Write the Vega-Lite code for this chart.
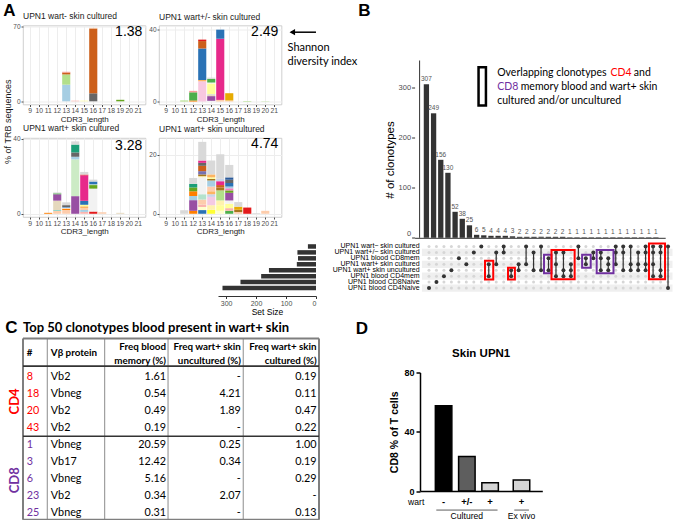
{
"$schema": "https://vega.github.io/schema/vega-lite/v6.json",
"padding": {"left": 3, "top": 1.5, "right": 2, "bottom": 0},
"background": "white",
"config": {"view": {"stroke": null}, "font": "Liberation Sans", "title": {"font": "Liberation Sans"}, "axis": {"labelFont": "Liberation Sans", "titleFont": "Liberation Sans"}, "text": {"font": "Liberation Sans"}},
"datasets": {
"cdr3": [
{"p":"p1","L":13,"c":"K01","v":15.6},{"p":"p1","L":13,"c":"K02","v":9.6},{"p":"p1","L":13,"c":"K03","v":1.8},{"p":"p1","L":13,"c":"K04","v":0.7},
{"p":"p1","L":14,"c":"K30","v":0.6},{"p":"p1","L":15,"c":"K13","v":0.6},
{"p":"p1","L":16,"c":"K05","v":7.5},{"p":"p1","L":16,"c":"K03","v":60.8},{"p":"p1","L":16,"c":"K21","v":0.6},
{"p":"p1","L":19,"c":"K06","v":1.4},
{"p":"p2","L":11,"c":"K02","v":0.6},
{"p":"p2","L":12,"c":"K17","v":0.6},{"p":"p2","L":12,"c":"K18","v":4.5},{"p":"p2","L":12,"c":"K04","v":0.8},
{"p":"p2","L":13,"c":"K07","v":11.2},{"p":"p2","L":13,"c":"K08","v":0.7},{"p":"p2","L":13,"c":"K09","v":17.4},{"p":"p2","L":13,"c":"K03","v":4.1},{"p":"p2","L":13,"c":"K10","v":0.8},
{"p":"p2","L":14,"c":"K20","v":0.4},{"p":"p2","L":14,"c":"K11","v":2.6},{"p":"p2","L":14,"c":"K12","v":0.6},{"p":"p2","L":14,"c":"K19","v":0.5},{"p":"p2","L":14,"c":"K13","v":5.9},{"p":"p2","L":14,"c":"K20","v":0.5},{"p":"p2","L":14,"c":"K18","v":2.0},{"p":"p2","L":14,"c":"K19","v":0.7},
{"p":"p2","L":15,"c":"K21","v":0.9},{"p":"p2","L":15,"c":"K15","v":33.8},{"p":"p2","L":15,"c":"K09","v":5.0},
{"p":"p2","L":16,"c":"K21","v":0.6},{"p":"p2","L":16,"c":"K16","v":4.0},
{"p":"p2","L":18,"c":"K02","v":0.3},{"p":"p2","L":20,"c":"K02","v":0.15},
{"p":"p3","L":11,"c":"K17","v":0.5},
{"p":"p3","L":12,"c":"K21","v":1.5},{"p":"p3","L":12,"c":"K29","v":0.5},{"p":"p3","L":12,"c":"K12","v":5.0},{"p":"p3","L":12,"c":"K11","v":3.4},{"p":"p3","L":12,"c":"K18","v":0.5},{"p":"p3","L":12,"c":"K19","v":0.5},
{"p":"p3","L":13,"c":"K21","v":2.0},{"p":"p3","L":13,"c":"K17","v":0.8},{"p":"p3","L":13,"c":"K20","v":0.5},{"p":"p3","L":13,"c":"K09","v":0.3},{"p":"p3","L":13,"c":"K05","v":1.0},{"p":"p3","L":13,"c":"K19","v":1.5},
{"p":"p3","L":14,"c":"K11","v":9.4},{"p":"p3","L":14,"c":"K32","v":19.6},{"p":"p3","L":14,"c":"K01","v":1.4},{"p":"p3","L":14,"c":"K05","v":2.3},{"p":"p3","L":14,"c":"K14","v":4.2},{"p":"p3","L":14,"c":"K19","v":1.7},
{"p":"p3","L":15,"c":"K30","v":1.0},{"p":"p3","L":15,"c":"K01","v":1.0},{"p":"p3","L":15,"c":"K21","v":1.0},{"p":"p3","L":15,"c":"K08","v":1.0},{"p":"p3","L":15,"c":"K13","v":0.8},{"p":"p3","L":15,"c":"K09","v":2.1},{"p":"p3","L":15,"c":"K15","v":13.6},{"p":"p3","L":15,"c":"K10","v":0.4},{"p":"p3","L":15,"c":"K19","v":1.4},
{"p":"p3","L":16,"c":"K10","v":1.2},{"p":"p3","L":16,"c":"K20","v":12.2},{"p":"p3","L":16,"c":"K06","v":1.9},{"p":"p3","L":16,"c":"K32","v":0.4},{"p":"p3","L":16,"c":"K09","v":1.5},{"p":"p3","L":16,"c":"K19","v":1.0},
{"p":"p3","L":17,"c":"K21","v":0.8},{"p":"p3","L":19,"c":"K12","v":0.5},
{"p":"p4","L":11,"c":"K19","v":1.2},
{"p":"p4","L":12,"c":"K17","v":1.0},{"p":"p4","L":12,"c":"K11","v":3.6},{"p":"p4","L":12,"c":"K01","v":1.4},{"p":"p4","L":12,"c":"K17","v":1.6},{"p":"p4","L":12,"c":"K06","v":1.3},{"p":"p4","L":12,"c":"K14","v":1.2},{"p":"p4","L":12,"c":"K19","v":2.0},
{"p":"p4","L":13,"c":"K09","v":1.25},{"p":"p4","L":13,"c":"K33","v":1.05},{"p":"p4","L":13,"c":"K30","v":0.8},{"p":"p4","L":13,"c":"K21","v":1.7},{"p":"p4","L":13,"c":"K22","v":1.8},{"p":"p4","L":13,"c":"K20","v":5.7},{"p":"p4","L":13,"c":"K25","v":0.4},{"p":"p4","L":13,"c":"K27","v":0.6},{"p":"p4","L":13,"c":"K24","v":1.1},{"p":"p4","L":13,"c":"K03","v":1.8},{"p":"p4","L":13,"c":"K05","v":1.0},{"p":"p4","L":13,"c":"K15","v":0.8},{"p":"p4","L":13,"c":"K19","v":6.3},
{"p":"p4","L":14,"c":"K26","v":1.35},{"p":"p4","L":14,"c":"K25","v":1.55},{"p":"p4","L":14,"c":"K34","v":2.8},{"p":"p4","L":14,"c":"K23","v":0.9},{"p":"p4","L":14,"c":"K08","v":1.0},{"p":"p4","L":14,"c":"K21","v":1.6},{"p":"p4","L":14,"c":"K01","v":2.05},{"p":"p4","L":14,"c":"K27","v":0.55},{"p":"p4","L":14,"c":"K13","v":0.5},{"p":"p4","L":14,"c":"K08","v":1.0},{"p":"p4","L":14,"c":"K19","v":4.7},
{"p":"p4","L":15,"c":"K33","v":1.0},{"p":"p4","L":15,"c":"K13","v":1.9},{"p":"p4","L":15,"c":"K25","v":1.6},{"p":"p4","L":15,"c":"K02","v":3.4},{"p":"p4","L":15,"c":"K27","v":0.95},{"p":"p4","L":15,"c":"K03","v":0.85},{"p":"p4","L":15,"c":"K15","v":1.3},{"p":"p4","L":15,"c":"K23","v":0.8},{"p":"p4","L":15,"c":"K19","v":8.3},
{"p":"p4","L":16,"c":"K18","v":1.0},{"p":"p4","L":16,"c":"K30","v":0.9},{"p":"p4","L":16,"c":"K13","v":1.5},{"p":"p4","L":16,"c":"K20","v":1.1},{"p":"p4","L":16,"c":"K11","v":2.6},{"p":"p4","L":16,"c":"K06","v":0.8},{"p":"p4","L":16,"c":"K28","v":0.7},{"p":"p4","L":16,"c":"K01","v":0.6},{"p":"p4","L":16,"c":"K09","v":1.2},{"p":"p4","L":16,"c":"K05","v":1.1},{"p":"p4","L":16,"c":"K36","v":0.8},{"p":"p4","L":16,"c":"K19","v":4.2},
{"p":"p4","L":17,"c":"K21","v":0.6},{"p":"p4","L":17,"c":"K27","v":0.75},{"p":"p4","L":17,"c":"K16","v":1.05},{"p":"p4","L":17,"c":"K19","v":1.55},
{"p":"p4","L":18,"c":"K10","v":2.1},{"p":"p4","L":19,"c":"K19","v":0.25},{"p":"p4","L":20,"c":"K21","v":1.0}
],
"shannon": [{"p":"p1","L":21,"y":65,"t":"1.38"},{"p":"p2","L":21,"y":38.5,"t":"2.49"},{"p":"p3","L":21,"y":36.4,"t":"3.28"},{"p":"p4","L":21,"y":23.6,"t":"4.74"}],
"inter": [
{"i":1,"n":307,"m":[8]},{"i":2,"n":249,"m":[7]},{"i":3,"n":156,"m":[6]},{"i":4,"n":130,"m":[5]},{"i":5,"n":52,"m":[3]},{"i":6,"n":38,"m":[4]},{"i":7,"n":25,"m":[2]},{"i":8,"n":6,"m":[1]},
{"i":9,"n":5,"m":[4,6]},{"i":10,"n":4,"m":[2,4]},{"i":11,"n":4,"m":[1,2]},{"i":12,"n":4,"m":[5,6]},{"i":13,"n":3,"m":[4,5]},
{"i":14,"n":2,"m":[1,4]},{"i":15,"n":2,"m":[2,5]},{"i":16,"n":2,"m":[1,5]},{"i":17,"n":2,"m":[3,5]},{"i":18,"n":2,"m":[2,4,6]},{"i":19,"n":2,"m":[2,5,6]},{"i":20,"n":2,"m":[4,5,6]},
{"i":21,"n":1,"m":[1,3]},{"i":22,"n":1,"m":[3,4]},{"i":23,"n":1,"m":[2,3]},{"i":24,"n":1,"m":[2,3,5]},{"i":25,"n":1,"m":[3,4,5]},{"i":26,"n":1,"m":[1,2,4]},{"i":27,"n":1,"m":[1,2,5]},{"i":28,"n":1,"m":[1,4,5]},{"i":29,"n":1,"m":[2,4,5]},{"i":30,"n":1,"m":[1,2,4,5]},{"i":31,"n":1,"m":[1,2,4,6]},{"i":32,"n":1,"m":[1,2,5,6]},{"i":33,"n":1,"m":[1,8]}
],
"sets": [
{"r":1,"name":"UPN1 wart− skin cultured","size":27},
{"r":2,"name":"UPN1 wart+/− skin cultured","size":62},
{"r":3,"name":"UPN1 blood CD8mem","size":60},
{"r":4,"name":"UPN1 wart+ skin cultured","size":64},
{"r":5,"name":"UPN1 wart+ skin uncultured","size":157},
{"r":6,"name":"UPN1 blood CD4mem","size":183},
{"r":7,"name":"UPN1 blood CD8Naive","size":252},
{"r":8,"name":"UPN1 blood CD4Naive","size":312}
],
"boxes": [
{"a":8.5,"b":9.6,"lo":3.4,"hi":6.55,"k":"CD4"},
{"a":11.58,"b":12.5,"lo":4.6,"hi":6.55,"k":"CD4"},
{"a":16.4,"b":17.4,"lo":2.4,"hi":5.5,"k":"CD8"},
{"a":17.4,"b":20.5,"lo":1.6,"hi":6.5,"k":"CD4"},
{"a":21.5,"b":22.65,"lo":2.4,"hi":4.6,"k":"CD8"},
{"a":23.45,"b":25.7,"lo":1.6,"hi":5.5,"k":"CD8"},
{"a":30.45,"b":32.6,"lo":0.5,"hi":6.5,"k":"CD4"}
],
"legtxt": [
{"x":10.87,"y":330.6,"t":"Overlapping clonotypes","g":"k"},
{"x":26.66,"y":330.6,"t":"CD4","g":"r"},
{"x":29.92,"y":330.6,"t":"and","g":"k"},
{"x":10.87,"y":302.6,"t":"CD8","g":"p"},
{"x":14.15,"y":302.6,"t":"memory blood and wart+ skin","g":"k"},
{"x":10.87,"y":274.6,"t":"cultured and/or uncultured","g":"k"}
],
"tbody": [
{"k":1,"g":"CD4","id":"8","vb":"Vb2","f1":"1.61","f2":"-","f3":"0.19"},
{"k":2,"g":"CD4","id":"18","vb":"Vbneg","f1":"0.54","f2":"4.21","f3":"0.11"},
{"k":3,"g":"CD4","id":"20","vb":"Vb2","f1":"0.49","f2":"1.89","f3":"0.47"},
{"k":4,"g":"CD4","id":"43","vb":"Vb2","f1":"0.19","f2":"-","f3":"0.22"},
{"k":5,"g":"CD8","id":"1","vb":"Vbneg","f1":"20.59","f2":"0.25","f3":"1.00"},
{"k":6,"g":"CD8","id":"3","vb":"Vb17","f1":"12.42","f2":"0.34","f3":"0.19"},
{"k":7,"g":"CD8","id":"6","vb":"Vbneg","f1":"5.16","f2":"-","f3":"0.29"},
{"k":8,"g":"CD8","id":"23","vb":"Vb2","f1":"0.34","f2":"2.07","f3":"-"},
{"k":9,"g":"CD8","id":"25","vb":"Vbneg","f1":"0.31","f2":"-","f3":"0.13"}
],
"thead": [
{"x":1.3,"y":-0.39,"t":"#","a":"l"},{"x":9.4,"y":-0.39,"t":"Vβ protein","a":"l"},
{"x":48.3,"y":-0.74,"t":"Freq blood\nmemory (%)","a":"r"},{"x":73.6,"y":-0.74,"t":"Freq wart+ skin\nuncultured (%)","a":"r"},{"x":99.2,"y":-0.74,"t":"Freq wart+ skin\ncultured (%)","a":"r"}
],
"dbars": [{"x":1,"v":57.5,"g":"a"},{"x":2,"v":23.3,"g":"b"},{"x":3,"v":5.7,"g":"c"},{"x":4.35,"v":7.5,"g":"c"}],
"dlab": [
{"x":-0.18,"y":-7.5,"t":"wart","w":"n"},{"x":1,"y":-7.5,"t":"-","w":"b"},{"x":2,"y":-7.5,"t":"+/-","w":"b"},{"x":3,"y":-7.5,"t":"+","w":"b"},{"x":4.35,"y":-7.5,"t":"+","w":"b"},
{"x":2.0,"y":-16.9,"t":"Cultured","w":"n"},{"x":4.35,"y":-16.9,"t":"Ex vivo","w":"n"}
],
"dline": [{"a":0.686,"b":3.32,"y":-12.8},{"a":4.04,"b":4.67,"y":-12.8}]
},
"spacing": 2,
"vconcat": [
{"spacing": 0, "vconcat": [
{"hconcat": [
 {"title": {"text": "A", "anchor": "start", "frame": "bounds", "fontSize": 17, "fontWeight": "bold", "offset": -8.5, "color": "#000"},
  "columns": 2, "bounds": "flush", "spacing": {"row": 33.5, "column": 13},
  "concat": [
   {"width": 122.5, "height": 79, "view": {"stroke": "#C4C4C4", "strokeWidth": 0.8},
    "title": {"text": "UPN1 wart- skin cultured", "anchor": "start", "frame": "group", "fontSize": 8.5, "fontWeight": "normal", "offset": 3, "color": "#1A1A1A"},
    "layer": [
     {"data": {"name": "cdr3"}, "transform": [{"filter": "datum.p == 'p1'"}, {"window": [{"op": "row_number", "as": "o"}]}],
      "mark": {"type": "bar"},
      "encoding": {
       "x": {"field": "L", "type": "ordinal", "scale": {"domain": [9,10,11,12,13,14,15,16,17,18,19,20,21], "paddingInner": 0.1, "paddingOuter": 0.35},
             "axis": {"title": "CDR3_length", "titleFontSize": 8, "titleFontWeight": "normal", "titleColor": "#1A1A1A", "titlePadding": 1, "labelFontSize": 6.8, "labelColor": "#4D4D4D", "labelAngle": 0, "labelPadding": 1, "tickSize": 2, "tickColor": "#4D4D4D", "domain": false, "grid": true, "gridColor": "#EDEDED", "bandPosition": 0.5}},
       "y": {"field": "v", "type": "quantitative", "scale": {"domain": [-3.0, 71.1], "nice": false, "zero": false},
             "axis": {"title": "% of TRB sequences", "titleFontSize": 9, "titleFontWeight": "normal", "titleColor": "#1A1A1A", "titlePadding": 0, "titleY": 95.7, "values": [0,10,20,30,40,50,60,70], "labelFontSize": 6.5, "labelColor": "#4D4D4D", "labelPadding": 1, "tickSize": 2, "tickColor": "#4D4D4D", "domain": false, "grid": true, "gridColor": "#EDEDED"}},
       "color": {"field": "c", "type": "nominal", "legend": null, "scale": {"domain": ["K01","K02","K03","K04","K05","K06","K07","K08","K09","K10","K11","K12","K13","K14","K15","K16","K17","K18","K19","K20","K21","K22","K23","K24","K25","K26","K27","K28","K29","K30","K32","K33","K34","K36"], "range": ["#A6CEE3","#B2DF8A","#CC5F1A","#FB9A99","#666666","#66A61E","#F8C8E0","#FDB462","#2A72B5","#E31A1C","#984EA3","#E5D8BD","#FFFF99","#1B9E77","#E7298A","#E6AB02","#FF7F00","#4DAF4A","#D9D9D9","#F2F2F2","#FDCDAC","#B3E2CD","#CBD5E8","#7570B3","#FFF2AE","#FFFF33","#A6761D","#F781BF","#8DD3C7","#FBB4AE","#CCEBC5","#FFFFCC","#F4CAE4","#2B5B9B"]}},
       "order": {"field": "o", "type": "quantitative"}
      }},
     {"data": {"name": "shannon"}, "transform": [{"filter": "datum.p == 'p1'"}],
      "mark": {"type": "text", "align": "right", "baseline": "middle", "fontSize": 14, "color": "#000"},
      "encoding": {"x": {"field": "L", "type": "ordinal", "bandPosition": 1}, "y": {"field": "y", "type": "quantitative"}, "text": {"field": "t"}}}
    ]},
   {"width": 122.5, "height": 79, "view": {"stroke": "#C4C4C4", "strokeWidth": 0.8},
    "title": {"text": "UPN1 wart+/- skin cultured", "anchor": "start", "frame": "group", "fontSize": 8.5, "fontWeight": "normal", "offset": 3, "color": "#1A1A1A"},
    "layer": [
     {"data": {"name": "cdr3"}, "transform": [{"filter": "datum.p == 'p2'"}, {"window": [{"op": "row_number", "as": "o"}]}],
      "mark": {"type": "bar"},
      "encoding": {
       "x": {"field": "L", "type": "ordinal", "scale": {"domain": [9,10,11,12,13,14,15,16,17,18,19,20,21], "paddingInner": 0.1, "paddingOuter": 0.35},
             "axis": {"title": "CDR3_length", "titleFontSize": 8, "titleFontWeight": "normal", "titleColor": "#1A1A1A", "titlePadding": 1, "labelFontSize": 6.8, "labelColor": "#4D4D4D", "labelAngle": 0, "labelPadding": 1, "tickSize": 2, "tickColor": "#4D4D4D", "domain": false, "grid": true, "gridColor": "#EDEDED", "bandPosition": 0.5}},
       "y": {"field": "v", "type": "quantitative", "scale": {"domain": [-1.63, 42.0], "nice": false, "zero": false},
             "axis": {"title": null, "values": [0,10,20,30,40], "labelFontSize": 6.5, "labelColor": "#4D4D4D", "labelPadding": 1, "tickSize": 2, "tickColor": "#4D4D4D", "domain": false, "grid": true, "gridColor": "#EDEDED"}},
       "color": {"field": "c", "type": "nominal", "legend": null, "scale": {"domain": ["K01","K02","K03","K04","K05","K06","K07","K08","K09","K10","K11","K12","K13","K14","K15","K16","K17","K18","K19","K20","K21","K22","K23","K24","K25","K26","K27","K28","K29","K30","K32","K33","K34","K36"], "range": ["#A6CEE3","#B2DF8A","#CC5F1A","#FB9A99","#666666","#66A61E","#F8C8E0","#FDB462","#2A72B5","#E31A1C","#984EA3","#E5D8BD","#FFFF99","#1B9E77","#E7298A","#E6AB02","#FF7F00","#4DAF4A","#D9D9D9","#F2F2F2","#FDCDAC","#B3E2CD","#CBD5E8","#7570B3","#FFF2AE","#FFFF33","#A6761D","#F781BF","#8DD3C7","#FBB4AE","#CCEBC5","#FFFFCC","#F4CAE4","#2B5B9B"]}},
       "order": {"field": "o", "type": "quantitative"}
      }},
     {"data": {"name": "shannon"}, "transform": [{"filter": "datum.p == 'p2'"}],
      "mark": {"type": "text", "align": "right", "baseline": "middle", "fontSize": 14, "color": "#000"},
      "encoding": {"x": {"field": "L", "type": "ordinal", "bandPosition": 1}, "y": {"field": "y", "type": "quantitative"}, "text": {"field": "t"}}}
    ]},
   {"width": 122.5, "height": 79, "view": {"stroke": "#C4C4C4", "strokeWidth": 0.8},
    "title": {"text": "UPN1 wart+ skin cultured", "anchor": "start", "frame": "group", "fontSize": 8.5, "fontWeight": "normal", "offset": 3, "color": "#1A1A1A"},
    "layer": [
     {"data": {"name": "cdr3"}, "transform": [{"filter": "datum.p == 'p3'"}, {"window": [{"op": "row_number", "as": "o"}]}],
      "mark": {"type": "bar"},
      "encoding": {
       "x": {"field": "L", "type": "ordinal", "scale": {"domain": [9,10,11,12,13,14,15,16,17,18,19,20,21], "paddingInner": 0.1, "paddingOuter": 0.35},
             "axis": {"title": "CDR3_length", "titleFontSize": 8, "titleFontWeight": "normal", "titleColor": "#1A1A1A", "titlePadding": 1, "labelFontSize": 6.8, "labelColor": "#4D4D4D", "labelAngle": 0, "labelPadding": 1, "tickSize": 2, "tickColor": "#4D4D4D", "domain": false, "grid": true, "gridColor": "#EDEDED", "bandPosition": 0.5}},
       "y": {"field": "v", "type": "quantitative", "scale": {"domain": [-1.72, 40.4], "nice": false, "zero": false},
             "axis": {"title": null, "values": [0,10,20,30,40], "labelFontSize": 6.5, "labelColor": "#4D4D4D", "labelPadding": 1, "tickSize": 2, "tickColor": "#4D4D4D", "domain": false, "grid": true, "gridColor": "#EDEDED"}},
       "color": {"field": "c", "type": "nominal", "legend": null, "scale": {"domain": ["K01","K02","K03","K04","K05","K06","K07","K08","K09","K10","K11","K12","K13","K14","K15","K16","K17","K18","K19","K20","K21","K22","K23","K24","K25","K26","K27","K28","K29","K30","K32","K33","K34","K36"], "range": ["#A6CEE3","#B2DF8A","#CC5F1A","#FB9A99","#666666","#66A61E","#F8C8E0","#FDB462","#2A72B5","#E31A1C","#984EA3","#E5D8BD","#FFFF99","#1B9E77","#E7298A","#E6AB02","#FF7F00","#4DAF4A","#D9D9D9","#F2F2F2","#FDCDAC","#B3E2CD","#CBD5E8","#7570B3","#FFF2AE","#FFFF33","#A6761D","#F781BF","#8DD3C7","#FBB4AE","#CCEBC5","#FFFFCC","#F4CAE4","#2B5B9B"]}},
       "order": {"field": "o", "type": "quantitative"}
      }},
     {"data": {"name": "shannon"}, "transform": [{"filter": "datum.p == 'p3'"}],
      "mark": {"type": "text", "align": "right", "baseline": "middle", "fontSize": 14, "color": "#000"},
      "encoding": {"x": {"field": "L", "type": "ordinal", "bandPosition": 1}, "y": {"field": "y", "type": "quantitative"}, "text": {"field": "t"}}}
    ]},
   {"width": 122.5, "height": 79, "view": {"stroke": "#C4C4C4", "strokeWidth": 0.8},
    "title": {"text": "UPN1 wart+ skin uncultured", "anchor": "start", "frame": "group", "fontSize": 8.5, "fontWeight": "normal", "offset": 3, "color": "#1A1A1A"},
    "layer": [
     {"data": {"name": "cdr3"}, "transform": [{"filter": "datum.p == 'p4'"}, {"window": [{"op": "row_number", "as": "o"}]}],
      "mark": {"type": "bar"},
      "encoding": {
       "x": {"field": "L", "type": "ordinal", "scale": {"domain": [9,10,11,12,13,14,15,16,17,18,19,20,21], "paddingInner": 0.1, "paddingOuter": 0.35},
             "axis": {"title": "CDR3_length", "titleFontSize": 8, "titleFontWeight": "normal", "titleColor": "#1A1A1A", "titlePadding": 1, "labelFontSize": 6.8, "labelColor": "#4D4D4D", "labelAngle": 0, "labelPadding": 1, "tickSize": 2, "tickColor": "#4D4D4D", "domain": false, "grid": true, "gridColor": "#EDEDED", "bandPosition": 0.5}},
       "y": {"field": "v", "type": "quantitative", "scale": {"domain": [-1.09, 25.6], "nice": false, "zero": false},
             "axis": {"title": null, "values": [0,10,20], "labelFontSize": 6.5, "labelColor": "#4D4D4D", "labelPadding": 1, "tickSize": 2, "tickColor": "#4D4D4D", "domain": false, "grid": true, "gridColor": "#EDEDED"}},
       "color": {"field": "c", "type": "nominal", "legend": null, "scale": {"domain": ["K01","K02","K03","K04","K05","K06","K07","K08","K09","K10","K11","K12","K13","K14","K15","K16","K17","K18","K19","K20","K21","K22","K23","K24","K25","K26","K27","K28","K29","K30","K32","K33","K34","K36"], "range": ["#A6CEE3","#B2DF8A","#CC5F1A","#FB9A99","#666666","#66A61E","#F8C8E0","#FDB462","#2A72B5","#E31A1C","#984EA3","#E5D8BD","#FFFF99","#1B9E77","#E7298A","#E6AB02","#FF7F00","#4DAF4A","#D9D9D9","#F2F2F2","#FDCDAC","#B3E2CD","#CBD5E8","#7570B3","#FFF2AE","#FFFF33","#A6761D","#F781BF","#8DD3C7","#FBB4AE","#CCEBC5","#FFFFCC","#F4CAE4","#2B5B9B"]}},
       "order": {"field": "o", "type": "quantitative"}
      }},
     {"data": {"name": "shannon"}, "transform": [{"filter": "datum.p == 'p4'"}],
      "mark": {"type": "text", "align": "right", "baseline": "middle", "fontSize": 14, "color": "#000"},
      "encoding": {"x": {"field": "L", "type": "ordinal", "bandPosition": 1}, "y": {"field": "y", "type": "quantitative"}, "text": {"field": "t"}}}
    ]}
  ]},
 {"width": 250.6, "height": 212.3,
  "layer": [
   {"data": {"name": "inter"}, "mark": {"type": "bar", "size": 5.3, "color": "#333333"},
    "encoding": {
     "x": {"field": "i", "type": "quantitative", "scale": {"domain": [0.05, 33.6], "nice": false, "zero": false}, "axis": {"title": null, "labels": false, "ticks": false, "grid": false, "domainColor": "#333333"}},
     "y": {"field": "n", "type": "quantitative", "scale": {"domain": [0, 424.6], "nice": false}, "axis": {"title": "# of clonotypes", "titleFontSize": 11.5, "titleFontWeight": "normal", "titleColor": "#000", "titlePadding": 3, "titleY": 134, "values": [0,100,200,300], "labelFontSize": 7.5, "labelColor": "#4D4D4D", "labelPadding": 1, "labelFlush": 2, "tickSize": 3, "tickColor": "#333333", "domain": false, "grid": false}}
    }},
   {"data": {"values": [{"lo": 0, "hi": 354.6}]}, "mark": {"type": "rule", "color": "#333333", "strokeWidth": 1},
    "encoding": {"x": {"datum": 0.05}, "y": {"field": "lo", "type": "quantitative"}, "y2": {"field": "hi"}}},
   {"data": {"name": "inter"}, "mark": {"type": "text", "baseline": "bottom", "dy": -2, "fontSize": 6.5, "color": "#555555"},
    "encoding": {"x": {"field": "i", "type": "quantitative"}, "y": {"field": "n", "type": "quantitative"}, "text": {"field": "n"}}},
   {"data": {"values": [{"a": 8.27, "b": 9.3, "lo": 264.6, "hi": 341}]}, "mark": {"type": "rect", "fillOpacity": 0, "stroke": "#000", "strokeWidth": 2.5},
    "encoding": {"x": {"field": "a", "type": "quantitative"}, "x2": {"field": "b"}, "y": {"field": "lo", "type": "quantitative"}, "y2": {"field": "hi"}}},
   {"data": {"name": "legtxt"}, "mark": {"type": "text", "align": "left", "baseline": "middle", "fontSize": 10.5, "font": "Lato"},
    "encoding": {"x": {"field": "x", "type": "quantitative"}, "y": {"field": "y", "type": "quantitative"}, "text": {"field": "t"},
     "color": {"condition": [{"test": "datum.g == 'r'", "value": "#FF0000"}, {"test": "datum.g == 'p'", "value": "#7030A0"}], "value": "#000000"}}},
   {"data": {"values": [{"x": -18.37, "y": 380.6, "t": "Shannon"}, {"x": -18.37, "y": 352.6, "t": "diversity index"}]}, "mark": {"type": "text", "align": "left", "baseline": "middle", "fontSize": 11, "font": "Lato", "color": "#000"},
    "encoding": {"x": {"field": "x", "type": "quantitative"}, "y": {"field": "y", "type": "quantitative"}, "text": {"field": "t"}}},
   {"data": {"values": [{"x": -17.9, "x2": -14.4, "y": 411.2}]}, "mark": {"type": "rule", "color": "#000", "strokeWidth": 1.5},
    "encoding": {"x": {"field": "x", "type": "quantitative"}, "x2": {"field": "x2"}, "y": {"field": "y", "type": "quantitative"}}},
   {"data": {"values": [{"x": -17.7, "y": 411.2}]}, "mark": {"type": "point", "shape": "triangle-left", "filled": true, "color": "#000", "size": 40, "opacity": 1},
    "encoding": {"x": {"field": "x", "type": "quantitative"}, "y": {"field": "y", "type": "quantitative"}}},
   {"data": {"values": [{"x": -8.5, "y": 454.6, "t": "B"}]}, "mark": {"type": "text", "align": "left", "baseline": "middle", "fontSize": 17, "fontWeight": "bold", "color": "#000"},
    "encoding": {"x": {"field": "x", "type": "quantitative"}, "y": {"field": "y", "type": "quantitative"}, "text": {"field": "t"}}}
  ]}
], "spacing": 4.6},
{"hconcat": [
 {"width": 195, "height": 10, "data": {"values": [{"z": 0}]}, "mark": {"type": "point", "opacity": 0}},
 {"columns": 2, "bounds": "flush", "align": "each", "spacing": {"row": 0, "column": 105.9},
  "concat": [
   {"width": 98, "height": 57.5, "data": {"name": "sets"},
    "mark": {"type": "bar", "orient": "horizontal", "size": 4.5, "color": "#333333"},
    "encoding": {
     "x": {"field": "size", "type": "quantitative", "scale": {"domain": [0, 327], "reverse": true, "nice": false}, "axis": {"title": "Set Size", "titleFontSize": 8.5, "titleFontWeight": "normal", "titleColor": "#000", "titlePadding": 1.5, "values": [0,100,200,300], "labelFontSize": 7, "labelColor": "#4D4D4D", "labelPadding": 0.5, "tickSize": 2.5, "tickColor": "#333333", "domainColor": "#333333", "grid": false}},
     "y": {"field": "r", "type": "quantitative", "scale": {"domain": [0.5, 8.5], "reverse": true, "nice": false, "zero": false}, "axis": null}
    }},
   {"width": 250.6, "height": 57.5,
    "layer": [
     {"data": {"name": "sets"}, "transform": [{"filter": "datum.r % 2 == 0"}], "mark": {"type": "bar", "orient": "horizontal", "size": 7.19, "color": "#EFEFEF"},
      "encoding": {"x": {"datum": 0.05, "type": "quantitative", "scale": {"domain": [0.05, 33.6], "nice": false, "zero": false}, "axis": null}, "x2": {"datum": 33.6},
       "y": {"field": "r", "type": "quantitative", "scale": {"domain": [0.5, 8.5], "reverse": true, "nice": false, "zero": false}, "axis": null}}},
     {"data": {"name": "inter"}, "transform": [{"flatten": ["m"]}, {"impute": "n", "key": "m", "keyvals": [1,2,3,4,5,6,7,8], "groupby": ["i"], "value": 0}, {"filter": "datum.n == 0"}],
      "mark": {"type": "circle", "size": 9, "color": "#D6D6D6", "opacity": 1},
      "encoding": {"x": {"field": "i", "type": "quantitative"}, "y": {"field": "m", "type": "quantitative"}}},
     {"data": {"name": "inter"}, "transform": [{"flatten": ["m"]}], "mark": {"type": "rule", "color": "#333333", "strokeWidth": 1.2},
      "encoding": {"x": {"field": "i", "type": "quantitative"}, "y": {"aggregate": "min", "field": "m", "type": "quantitative"}, "y2": {"aggregate": "max", "field": "m"}}},
     {"data": {"name": "inter"}, "transform": [{"flatten": ["m"]}], "mark": {"type": "circle", "size": 16, "color": "#333333", "opacity": 1},
      "encoding": {"x": {"field": "i", "type": "quantitative"}, "y": {"field": "m", "type": "quantitative"}}},
     {"data": {"name": "boxes"}, "mark": {"type": "rect", "fillOpacity": 0, "strokeWidth": 2},
      "encoding": {"x": {"field": "a", "type": "quantitative"}, "x2": {"field": "b"}, "y": {"field": "lo", "type": "quantitative"}, "y2": {"field": "hi"},
       "stroke": {"condition": {"test": "datum.k == 'CD4'", "value": "#FF0000"}, "value": "#7030A0"}}},
     {"data": {"name": "sets"}, "mark": {"type": "text", "align": "right", "baseline": "middle", "fontSize": 7, "color": "#000"},
      "encoding": {"x": {"datum": -0.25}, "y": {"field": "r", "type": "quantitative"}, "text": {"field": "name"}}}
    ]}
  ]}
], "spacing": 0}
]},
{"hconcat": [
 {"width": 296, "height": 147.3,
  "layer": [
   {"data": {"values": [{"x": 8.2}, {"x": 27.6}, {"x": 49.0}, {"x": 74.4}]}, "mark": {"type": "rule", "color": "#8C8C8C", "strokeWidth": 1},
    "encoding": {"x": {"field": "x", "type": "quantitative", "scale": {"domain": [0, 100], "nice": false, "zero": false}, "axis": null},
     "y": {"datum": -1.26, "type": "quantitative", "scale": {"domain": [0.745, 9.43], "reverse": true, "nice": false, "zero": false}, "axis": null}, "y2": {"datum": 9.43}}},
   {"data": {"values": [{"x": 0}, {"x": 100}]}, "mark": {"type": "rule", "color": "#7F7F7F", "strokeWidth": 2},
    "encoding": {"x": {"field": "x", "type": "quantitative"}, "y": {"datum": -1.26}, "y2": {"datum": 9.43}}},
   {"data": {"values": [{"y": -1.26}, {"y": 9.43}]}, "mark": {"type": "rule", "color": "#7F7F7F", "strokeWidth": 2},
    "encoding": {"x": {"datum": 0}, "x2": {"datum": 100}, "y": {"field": "y", "type": "quantitative"}}},
   {"data": {"values": [{"y": 0.369}, {"y": 4.5}]}, "mark": {"type": "rule", "color": "#333333", "strokeWidth": 1.6},
    "encoding": {"x": {"datum": 0}, "x2": {"datum": 100}, "y": {"field": "y", "type": "quantitative"}}},
   {"data": {"name": "thead"}, "transform": [{"filter": "datum.a == 'l'"}], "mark": {"type": "text", "align": "left", "baseline": "middle", "fontSize": 9.8, "fontWeight": "bold", "font": "Lato", "color": "#000"},
    "encoding": {"x": {"field": "x", "type": "quantitative"}, "y": {"field": "y", "type": "quantitative"}, "text": {"field": "t"}}},
   {"data": {"name": "thead"}, "transform": [{"filter": "datum.a == 'r'"}], "mark": {"type": "text", "align": "right", "baseline": "middle", "fontSize": 9.8, "fontWeight": "bold", "font": "Lato", "color": "#000", "lineBreak": "\n", "lineHeight": 13.3},
    "encoding": {"x": {"field": "x", "type": "quantitative"}, "y": {"field": "y", "type": "quantitative"}, "text": {"field": "t"}}},
   {"data": {"name": "tbody"}, "mark": {"type": "text", "align": "left", "baseline": "middle", "fontSize": 10.8, "font": "Lato"},
    "encoding": {"x": {"datum": 1.3}, "y": {"field": "k", "type": "quantitative"}, "text": {"field": "id"},
     "color": {"condition": {"test": "datum.g == 'CD4'", "value": "#FF0000"}, "value": "#7030A0"}}},
   {"data": {"name": "tbody"}, "mark": {"type": "text", "align": "left", "baseline": "middle", "fontSize": 10.8, "font": "Lato", "color": "#000"},
    "encoding": {"x": {"datum": 9.4}, "y": {"field": "k", "type": "quantitative"}, "text": {"field": "vb"}}},
   {"data": {"name": "tbody"}, "mark": {"type": "text", "align": "right", "baseline": "middle", "fontSize": 10.8, "font": "Lato", "color": "#000"},
    "encoding": {"x": {"datum": 48.3}, "y": {"field": "k", "type": "quantitative"}, "text": {"field": "f1"}}},
   {"data": {"name": "tbody"}, "mark": {"type": "text", "align": "right", "baseline": "middle", "fontSize": 10.8, "font": "Lato", "color": "#000"},
    "encoding": {"x": {"datum": 73.6}, "y": {"field": "k", "type": "quantitative"}, "text": {"field": "f2"}}},
   {"data": {"name": "tbody"}, "mark": {"type": "text", "align": "right", "baseline": "middle", "fontSize": 10.8, "font": "Lato", "color": "#000"},
    "encoding": {"x": {"datum": 99.2}, "y": {"field": "k", "type": "quantitative"}, "text": {"field": "f3"}}},
   {"data": {"values": [{"t": "CD4", "y": 2.45, "g": "CD4"}, {"t": "CD8", "y": 7.1, "g": "CD8"}]}, "mark": {"type": "text", "align": "center", "baseline": "middle", "angle": 270, "fontSize": 13, "fontWeight": "bold", "font": "Lato"},
    "encoding": {"x": {"datum": -2.84}, "y": {"field": "y", "type": "quantitative"}, "text": {"field": "t"},
     "color": {"condition": {"test": "datum.g == 'CD4'", "value": "#FF0000"}, "value": "#7030A0"}}},
   {"data": {"values": [{"t": "C"}]}, "mark": {"type": "text", "align": "left", "baseline": "middle", "fontSize": 17, "fontWeight": "bold", "color": "#000"},
    "encoding": {"x": {"datum": -6.0}, "y": {"datum": -1.89}, "text": {"field": "t"}}},
   {"data": {"values": [{"t": "Top 50 clonotypes blood present in wart+ skin"}]}, "mark": {"type": "text", "align": "left", "baseline": "middle", "fontSize": 13, "fontWeight": "bold", "font": "Lato", "color": "#000"},
    "encoding": {"x": {"datum": 0}, "y": {"datum": -1.89}, "text": {"field": "t"}}}
  ]},
 {"width": 122.3, "height": 118.6,
  "layer": [
   {"data": {"name": "dbars"}, "mark": {"type": "bar", "orient": "vertical", "size": 16.5, "stroke": "#000", "strokeWidth": 1.5},
    "encoding": {
     "x": {"field": "x", "type": "quantitative", "scale": {"domain": [0.2, 5.03], "nice": false, "zero": false}, "axis": {"title": null, "labels": false, "ticks": false, "grid": false, "domainColor": "#000", "domainWidth": 1.5}},
     "y": {"field": "v", "type": "quantitative", "scale": {"domain": [0, 80], "nice": false}, "axis": {"title": "CD8 % of  T cells", "titleFontSize": 10.5, "titleFontWeight": "bold", "titleColor": "#000", "titlePadding": 4, "values": [0,20,40,60,80], "labelFontSize": 9, "labelFontWeight": "bold", "labelColor": "#000", "labelPadding": 2, "tickSize": 4, "tickWidth": 1.5, "tickColor": "#000", "domainWidth": 1.5, "domainColor": "#000", "grid": false}},
     "fill": {"condition": [{"test": "datum.g == 'a'", "value": "#000000"}, {"test": "datum.g == 'b'", "value": "#5E5E5E"}], "value": "#D4D4D4"}
    }},
   {"data": {"name": "dlab"}, "transform": [{"filter": "datum.w == 'n'"}], "mark": {"type": "text", "align": "center", "baseline": "middle", "fontSize": 8.6, "color": "#000"},
    "encoding": {"x": {"field": "x", "type": "quantitative"}, "y": {"field": "y", "type": "quantitative"}, "text": {"field": "t"}}},
   {"data": {"name": "dlab"}, "transform": [{"filter": "datum.w == 'b'"}], "mark": {"type": "text", "align": "center", "baseline": "middle", "fontSize": 9.5, "fontWeight": "bold", "color": "#000"},
    "encoding": {"x": {"field": "x", "type": "quantitative"}, "y": {"field": "y", "type": "quantitative"}, "text": {"field": "t"}}},
   {"data": {"name": "dline"}, "mark": {"type": "rule", "color": "#333333", "strokeWidth": 0.8},
    "encoding": {"x": {"field": "a", "type": "quantitative"}, "x2": {"field": "b"}, "y": {"field": "y", "type": "quantitative"}}},
   {"data": {"values": [{"t": "Skin UPN1"}]}, "mark": {"type": "text", "align": "center", "baseline": "middle", "fontSize": 11.5, "fontWeight": "bold", "color": "#000"},
    "encoding": {"x": {"datum": 2.616}, "y": {"datum": 92.8}, "text": {"field": "t"}}},
   {"data": {"values": [{"t": "D"}]}, "mark": {"type": "text", "align": "center", "baseline": "middle", "fontSize": 17, "fontWeight": "bold", "color": "#000"},
    "encoding": {"x": {"datum": -2.51}, "y": {"datum": 109.5}, "text": {"field": "t"}}}
  ]}
 ], "spacing": 35}
]
}
